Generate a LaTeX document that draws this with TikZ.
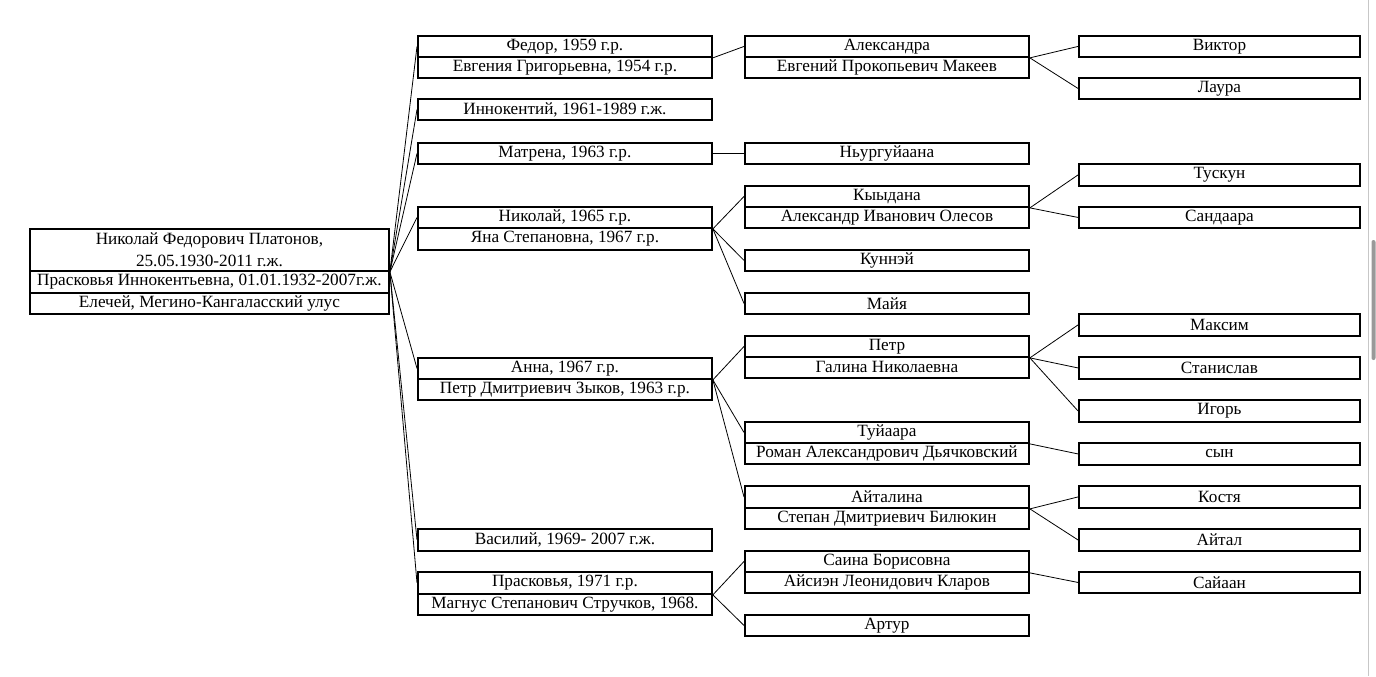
\documentclass[tikz,border=0pt]{standalone}
\usepackage{fontspec}
\setmainfont{Liberation Serif}
\begin{document}
\begin{tikzpicture}[x=0.75pt,y=-0.75pt,
  row/.style={draw, line width=1.4pt, inner sep=0pt, anchor=north west,
    font=\fontsize{12.9}{16.3}\selectfont, align=center},
  link/.style={line width=0.6pt}]
\newcommand\rb[6]{\node[row, minimum width=#4*0.75pt, minimum height=#5*0.75pt] (#1) at (#2,#3) {\raisebox{-1.8pt}{#6}};}
\useasboundingbox (0,0) rectangle (1376,676);
% root
\node[row, minimum width=359*0.75pt, minimum height=42*0.75pt] (r1) at (29,228) {\raisebox{-1.5pt}{\shortstack{Николай Федорович Платонов,\\[2.2pt]25.05.1930-2011 г.ж.}}};
\rb{r2}{29}{270}{359}{22}{Прасковья Иннокентьевна, 01.01.1932-2007г.ж.}
\rb{r3}{29}{292}{359}{21}{Елечей, Мегино-Кангаласский улус}
% column 1
\rb{fedor}{417}{35}{294}{21}{Федор, 1959 г.р.}
\rb{fedorS}{417}{56}{294}{21}{Евгения Григорьевна, 1954 г.р.}
\rb{innok}{417}{98}{294}{21}{Иннокентий, 1961-1989 г.ж.}
\rb{matr}{417}{142}{294}{21}{Матрена, 1963 г.р.}
\rb{nik}{417}{206}{294}{21}{Николай, 1965 г.р.}
\rb{nikS}{417}{227}{294}{22}{Яна Степановна, 1967 г.р.}
\rb{anna}{417}{357}{294}{21}{Анна, 1967 г.р.}
\rb{annaS}{417}{378}{294}{21}{Петр Дмитриевич Зыков, 1963 г.р.}
\rb{vas}{417}{528}{294}{22}{Василий, 1969- 2007 г.ж.}
\rb{prask}{417}{571}{294}{22}{Прасковья, 1971 г.р.}
\rb{praskS}{417}{593}{294}{21}{Магнус Степанович Стручков, 1968.}
% column 2
\rb{alex}{744}{35}{284}{21}{Александра}
\rb{alexS}{744}{56}{284}{21}{Евгений Прокопьевич Макеев}
\rb{nurg}{744}{142}{284}{21}{Ньургуйаана}
\rb{kyy}{744}{185}{284}{21}{Кыыдана}
\rb{kyyS}{744}{206}{284}{21}{Александр Иванович Олесов}
\rb{kun}{744}{249}{284}{21}{Куннэй}
\rb{maiya}{744}{292}{284}{21}{Майя}
\rb{petr}{744}{335}{284}{21}{Петр}
\rb{petrS}{744}{356}{284}{21}{Галина Николаевна}
\rb{tuy}{744}{421}{284}{21}{Туйаара}
\rb{tuyS}{744}{442}{284}{21}{Роман Александрович Дьячковский}
\rb{ait}{744}{485}{284}{22}{Айталина}
\rb{aitS}{744}{507}{284}{21}{Степан Дмитриевич Билюкин}
\rb{saina}{744}{550}{284}{21}{Саина Борисовна}
\rb{sainaS}{744}{571}{284}{21}{Айсиэн Леонидович Кларов}
\rb{artur}{744}{614}{284}{21}{Артур}
% column 3
\rb{vik}{1078}{35}{281}{21}{Виктор}
\rb{laura}{1078}{77}{281}{21}{Лаура}
\rb{tusk}{1078}{163}{281}{22}{Тускун}
\rb{sand}{1078}{206}{281}{21}{Сандаара}
\rb{maks}{1078}{313}{281}{22}{Максим}
\rb{stan}{1078}{356}{281}{22}{Станислав}
\rb{igor}{1078}{399}{281}{22}{Игорь}
\rb{syn}{1078}{442}{281}{22}{сын}
\rb{kostya}{1078}{485}{281}{22}{Костя}
\rb{aital}{1078}{528}{281}{22}{Айтал}
\rb{saiaan}{1078}{571}{281}{21}{Сайаан}
% connectors root -> column 1
\foreach \c in {fedor,innok,matr,nik,anna,vas,prask}
  \draw[link] (r1.south east) -- (\c.west);
% column 1 -> column 2
\draw[link] (fedor.south east) -- (alex.west);
\draw[link] (matr.east) -- (nurg.west);
\foreach \c in {kyy,kun,maiya} \draw[link] (nik.south east) -- (\c.west);
\foreach \c in {petr,tuy,ait} \draw[link] (anna.south east) -- (\c.west);
\foreach \c in {saina,artur} \draw[link] (prask.south east) -- (\c.west);
% column 2 -> column 3
\foreach \c in {vik,laura} \draw[link] (alex.south east) -- (\c.west);
\foreach \c in {tusk,sand} \draw[link] (kyy.south east) -- (\c.west);
\foreach \c in {maks,stan,igor} \draw[link] (petr.south east) -- (\c.west);
\draw[link] (tuy.south east) -- (syn.west);
\foreach \c in {kostya,aital} \draw[link] (ait.south east) -- (\c.west);
\draw[link] (saina.south east) -- (saiaan.west);
% scrollbar of the screenshot
\fill[black!22] (1368,0) rectangle (1369.2,676);
\fill[black!40, rounded corners=1.5pt] (1371.5,240) rectangle (1375.5,360);
\end{tikzpicture}
\end{document}
